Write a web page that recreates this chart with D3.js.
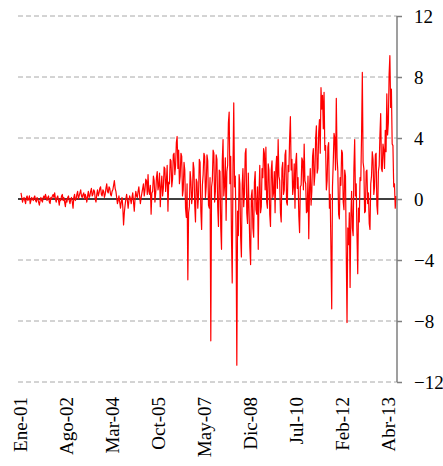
<!DOCTYPE html>
<html>
<head>
<meta charset="utf-8">
<script src="https://cdn.jsdelivr.net/npm/d3@7"></script>
<style>
  html, body { margin: 0; padding: 0; background: #fff; }
  svg { display: block; }
  svg text { font-family: "Liberation Serif", "Times New Roman", Times, "DejaVu Serif", serif !important; fill: #000; }
</style>
</head>
<body>
<svg id="chart" width="443" height="466"></svg>
<script>
// Series values (one per period), in order
const values = [
  0.4, 0.1, -0.2, 0.0, 0.1, -0.1, -0.3, 0.1, 0.2, -0.1, 0.0, 0.2, -0.3, -0.1, 0.1, 0.0, -0.1, 0.1, 0.2, -0.1,
  -0.2, 0.1, 0.0, -0.2, -0.4, -0.1, 0.1, -0.1, -0.2, 0.1, 0.2, 0.0, 0.3, 0.1, -0.1, 0.1, 0.2, -0.2, -0.3, 0.1,
  0.0, 0.2, 0.3, 0.1, 0.4, 0.0, -0.2, 0.1, 0.2, -0.1, -0.4, 0.0, -0.1, 0.2, 0.3, -0.1, 0.1, -0.2, -0.5, 0.0,
  -0.2, 0.1, 0.2, -0.1, -0.3, 0.0, 0.1, -0.2, -0.6, 0.1, 0.3, -0.1, 0.0, 0.3, 0.5, 0.0, 0.2, 0.4, 0.6, 0.2,
  0.1, 0.3, 0.4, 0.0, 0.3, 0.1, -0.2, 0.2, 0.5, 0.1, 0.2, 0.5, 0.7, 0.2, 0.3, 0.6, 0.5, 0.0, -0.2, 0.3,
  0.6, 0.2, 0.4, 0.7, 0.8, 0.3, 0.2, 0.6, 0.5, 0.1, 0.3, 0.7, 1.0, 0.5, 0.4, 0.8, 0.7, 0.3, 0.2, 0.5,
  0.6, 0.9, 1.2, 0.7, 0.5, 0.1, -0.3, -0.1, 0.2, -0.2, -0.6, -0.2, 0.1, -0.5, -1.7, -0.9, -0.4, 0.0, 0.3, -0.1,
  -0.6, -0.1, 0.2, 0.0, -0.3, 0.1, 0.4, -0.2, -0.8, 0.0, 0.5, 0.2, 0.1, 0.5, 0.8, 0.2, -0.3, 0.1, 0.4, 0.7,
  1.0, 0.2, 0.6, 1.3, 1.2, 0.3, 1.6, 0.5, 0.3, 0.9, -1.0, 0.4, 0.5, 1.5, 1.2, -0.2, 0.4, 1.4, 1.8, 0.6,
  0.9, 1.7, -0.5, 0.8, 1.5, 0.2, 0.7, 2.1, 2.0, 0.5, 1.2, 2.2, -0.8, 1.1, 1.0, 2.6, 2.5, 0.8, 1.3, 2.9,
  3.0, 1.6, 2.2, 3.7, 4.1, 2.0, 3.2, 1.0, 1.5, 3.0, 2.8, 0.2, 0.6, 2.4, 1.9, -0.6, -1.2, 1.0, -5.3, -0.9,
  -0.5, 1.8, 1.2, -0.3, 0.2, 2.4, 2.0, -0.4, -1.5, 1.3, 1.1, -0.6, 0.3, 2.6, 2.4, -0.8, -2.0, 0.9, 1.6, 3.0,
  2.8, 0.1, 0.8, 2.9, 2.5, -0.4, -0.6, 1.4, -9.3, 0.8, 1.2, 3.2, 3.0, -0.2, 0.5, 2.9, 2.6, -0.5, -1.8, 1.9,
  1.8, -1.9, -3.3, 2.5, 3.9, 0.2, 0.9, 2.7, -1.4, 1.8, 2.2, 5.0, 5.7, 1.0, 2.8, -2.4, -5.5, 2.1, 6.3, 0.8,
  1.5, -2.0, -10.9, -0.8, -2.4, 1.6, 1.0, -2.5, -3.8, 0.9, 2.0, -0.5, 0.4, 3.0, 3.3, -0.9, -1.6, 1.7, -0.8, -3.1,
  -4.3, 0.2, 0.6, -1.9, -2.5, 1.1, 1.8, -0.7, -1.0, 0.8, -3.3, 0.4, 2.2, -0.9, -0.5, 2.0, 1.4, 3.3, 3.0, 0.6,
  3.4, -0.2, -0.6, 2.3, 1.9, -1.0, -1.8, 1.9, 2.5, 0.1, 0.4, 1.8, -0.9, 2.0, 2.8, 0.7, 3.9, 1.5, 1.2, -0.9,
  -1.5, 2.0, 2.4, 0.3, 0.6, 2.9, 3.2, -0.2, -0.4, 2.2, 1.8, 4.0, 5.4, 1.9, 2.6, 0.3, 0.8, 2.3, -0.6, 2.4,
  3.0, 0.7, 1.4, -1.1, -2.2, 0.8, 0.9, 2.7, 2.5, 0.6, 3.6, 1.2, 1.0, -0.9, -0.8, 1.5, -2.6, 0.6, 2.0, -0.4,
  0.5, 2.8, 3.3, 0.9, 1.6, 4.0, 4.8, 1.7, 2.0, 4.4, 5.2, 3.0, 7.3, 5.9, 6.8, 4.6, 7.0, 3.2, 3.5, 0.6,
  1.2, 3.4, 3.7, -0.6, 0.3, -3.4, -7.2, 0.8, 2.4, 4.3, 4.0, 1.9, 6.6, 2.7, 1.8, -1.0, -1.3, 1.4, 0.9, 3.2,
  3.0, -0.2, -0.7, 1.9, 1.5, -3.5, -8.1, -1.9, -3.0, -0.9, -5.8, -1.2, 0.5, -1.9, -2.4, 2.0, 3.9, 0.2, 1.0, -2.3,
  -4.9, -0.6, -1.5, 1.4, 1.2, 4.2, 8.3, 2.4, 2.0, -0.9, -0.8, 1.8, 1.9, -0.3, 0.4, -1.6, -2.0, 1.0, 1.5, 3.1,
  2.6, 0.3, 0.8, 2.9, 3.0, -0.4, -1.0, 1.8, 2.2, 4.2, 5.6, 2.0, 1.8, 3.6, 3.2, 2.0, 4.5, 3.1, 6.9, 4.2,
  5.0, 8.2, 9.4, 6.0, 7.2, 3.6, 3.5, 0.8, 1.0, -0.6, 0.2
];

// Category labels shown along the bottom and the period index each one marks
const tickLabels = ["Ene-01", "Ago-02", "Mar-04", "Oct-05", "May-07", "Dic-08", "Jul-10", "Feb-12", "Abr-13"];
const tickIndex = [0, 60, 120, 180, 240, 300, 360, 420, 480];

// Value axis ticks
const yTicks = [-12, -8, -4, 0, 4, 8, 12];

const svg = d3.select("#chart");
const plotLeft = 18, plotRight = 397, plotTop = 16, plotBottom = 382;
const serif = "'Liberation Serif', 'Times New Roman', Times, 'DejaVu Serif', serif";

const x = d3.scaleLinear().domain([0, values.length - 1]).range([21, 396]);
const y = d3.scaleLinear().domain([-12, 12]).range([plotBottom, plotTop]);

// Horizontal gridlines
svg.append("g")
  .selectAll("line")
  .data(yTicks.filter(d => d !== 0))
  .join("line")
  .attr("x1", plotLeft).attr("x2", plotRight)
  .attr("y1", d => y(d)).attr("y2", d => y(d))
  .attr("stroke", "#a8a8a8")
  .attr("stroke-width", 1)
  .attr("stroke-dasharray", "5,3");

// Zero line
svg.append("line")
  .attr("x1", plotLeft).attr("x2", plotRight)
  .attr("y1", y(0)).attr("y2", y(0))
  .attr("stroke", "#000")
  .attr("stroke-width", 1.5);

// Series line
const line = d3.line()
  .x((d, i) => x(i))
  .y(d => y(d));

svg.append("path")
  .datum(values)
  .attr("fill", "none")
  .attr("stroke", "#ff0000")
  .attr("stroke-width", 1.2)
  .attr("stroke-linejoin", "round")
  .attr("d", line);

// Right value axis
const yAxis = d3.axisRight(y)
  .tickValues(yTicks)
  .tickSize(5)
  .tickPadding(12)
  .tickFormat(d3.format("d"));

const ga = svg.append("g")
  .attr("transform", `translate(${plotRight},0)`)
  .call(yAxis);
ga.attr("font-family", serif);
ga.select(".domain").attr("stroke", "#7f7f7f").attr("stroke-width", 1.5)
  .attr("d", `M0,${plotTop}V${plotBottom}`);
ga.selectAll(".tick line").attr("stroke", "#7f7f7f").attr("stroke-width", 1.5);
ga.selectAll(".tick text")
  .attr("font-family", serif)
  .style("font-size", "19px")
  .attr("fill", "#000");

// Rotated category labels
svg.append("g")
  .attr("font-family", serif)
  .selectAll("text")
  .data(tickLabels)
  .join("text")
  .attr("transform", (d, i) => `translate(${x(tickIndex[i])},397) rotate(-90)`)
  .attr("text-anchor", "end")
  .attr("dy", "0.33em")
  .style("font-size", "19px")
  .text(d => d);
</script>
</body>
</html>
